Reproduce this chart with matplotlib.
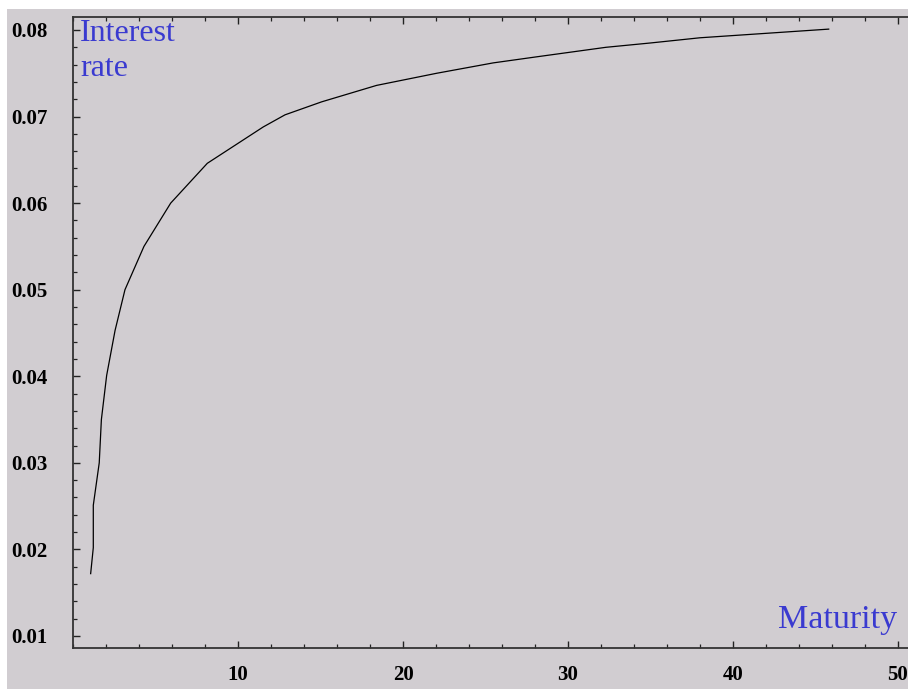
import matplotlib
matplotlib.use("Agg")
import matplotlib.pyplot as plt
from matplotlib.patches import Rectangle
from matplotlib.ticker import MultipleLocator

# yield curve (maturity in years, rate)
maturity = [1.07, 1.23, 1.23, 1.59, 1.72, 2.04, 2.55, 3.15, 4.3, 5.92, 8.14,
            11.53, 12.85, 15.07, 18.4, 22.04, 25.47, 28.1, 32.3, 35.0, 38.0, 45.8]
rate = [0.0172, 0.0202, 0.0251, 0.0300, 0.0350, 0.0401, 0.0453, 0.0500, 0.0550,
        0.0600, 0.0646, 0.0688, 0.0702, 0.0717, 0.0736, 0.0750, 0.0762, 0.0769,
        0.0780, 0.0785, 0.0791, 0.0801]

xticks = [10, 20, 30, 40, 50]
yticks = [0.01, 0.02, 0.03, 0.04, 0.05, 0.06, 0.07, 0.08]

bg = "#d1cdd1"
blue = "#3a3ad0"

W, H = 908, 689
fig = plt.figure(figsize=(W / 100, H / 100), dpi=100, facecolor="white")
fig.patches.append(Rectangle((7 / W, 0), 1 - 7 / W, 1 - 9 / H,
                             transform=fig.transFigure, facecolor=bg,
                             edgecolor="none", zorder=-10))

ax = fig.add_axes([73 / W, 1 - 648 / H, 1 - 73 / W, (648 - 17) / H])
ax.set_facecolor(bg)

ax.plot(maturity, rate, color="black", linewidth=0.9)

ax.set_xlim(0, (W - 73) / 16.5)
ax.set_ylim(0.00861, 0.0815)

ax.set_xticks(xticks)
ax.set_yticks(yticks)
ax.set_yticklabels([f"{v:.2f}" for v in yticks])
ax.xaxis.set_minor_locator(MultipleLocator(2))
ax.yaxis.set_minor_locator(MultipleLocator(0.002))

ax.spines["right"].set_visible(False)
for s in ["left", "top", "bottom"]:
    ax.spines[s].set_linewidth(1.3)
    ax.spines[s].set_color("#333333")

ax.tick_params(axis="both", which="both", direction="in", color="#222222",
               top=True, right=False)
ax.tick_params(which="major", length=5, width=1)
ax.tick_params(which="minor", length=3, width=0.9)
ax.tick_params(axis="y", which="major", pad=18)
ax.tick_params(axis="x", which="major", pad=12)

for lab in ax.get_xticklabels() + ax.get_yticklabels():
    lab.set_fontfamily("Liberation Serif")
    lab.set_fontweight("bold")
    lab.set_fontsize(15)

ax.text(0.0085, 0.997, "Interest\nrate", transform=ax.transAxes, ha="left",
        va="top", color=blue, fontsize=23, family="Liberation Serif",
        linespacing=1.3)
ax.text(0.987, 0.02, "Maturity", transform=ax.transAxes, ha="right",
        va="bottom", color=blue, fontsize=24.5, family="Liberation Serif")

fig.savefig("out.png", dpi=100, facecolor="white")
